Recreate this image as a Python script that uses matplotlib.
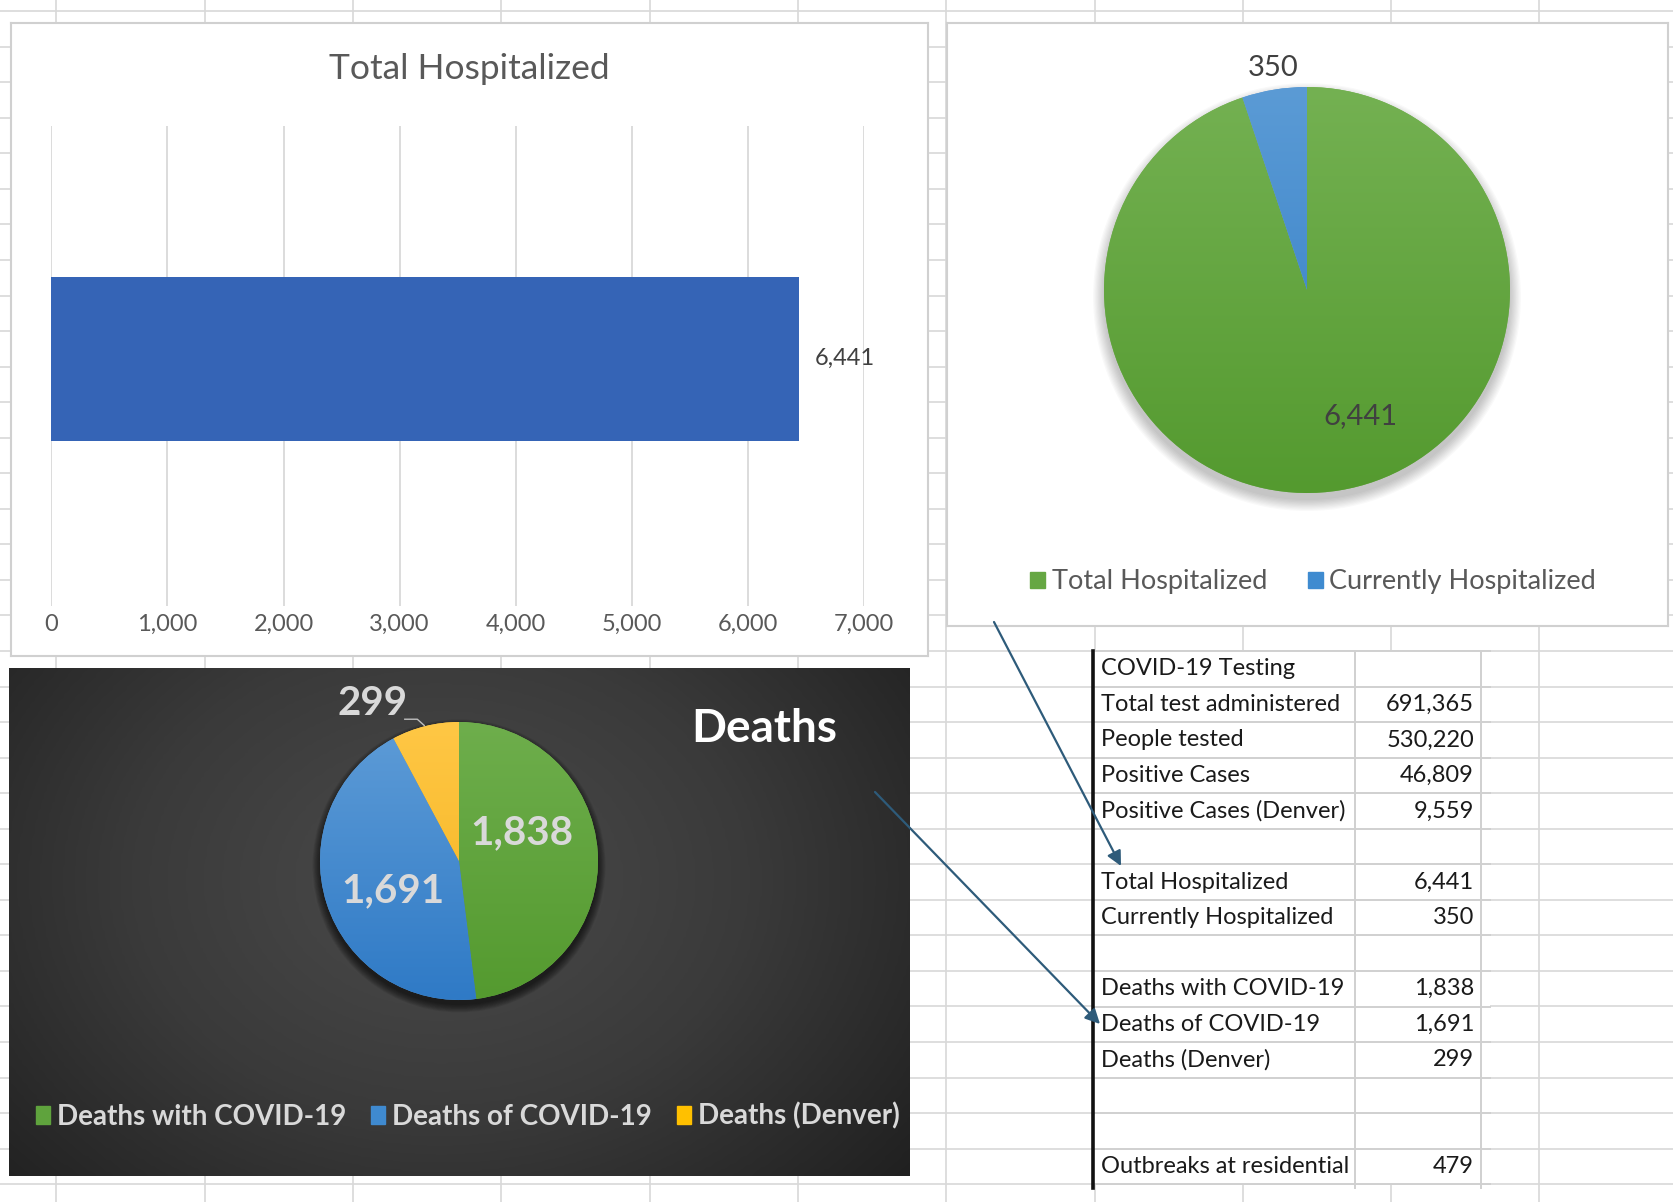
import numpy as np
import matplotlib
matplotlib.use('Agg')
import matplotlib.pyplot as plt
from matplotlib.colors import LinearSegmentedColormap
from matplotlib.patches import Rectangle, Circle, Patch, FancyArrowPatch

plt.rcParams['font.family'] = ['Lato', 'DejaVu Sans']

# ---------------- data ----------------
bar_categories = ['Total Hospitalized']
bar_values = [6441]
bar_ticks = [0, 1000, 2000, 3000, 4000, 5000, 6000, 7000]

hosp_labels = ['Total Hospitalized', 'Currently Hospitalized']
hosp_values = [6441, 350]

death_labels = ['Deaths with COVID-19', 'Deaths of COVID-19', 'Deaths (Denver)']
death_values = [1838, 1691, 299]

table_labels = ['COVID-19 Testing', 'Total test administered', 'People tested',
                'Positive Cases', 'Positive Cases (Denver)', '',
                'Total Hospitalized', 'Currently Hospitalized', '',
                'Deaths with COVID-19', 'Deaths of COVID-19', 'Deaths (Denver)',
                '', '', 'Outbreaks at residential']
table_values = [None, 691365, 530220, 46809, 9559, None, 6441, 350, None,
                1838, 1691, 299, None, None, 479]

# ---------------- layout helpers ----------------
W, H = 1673, 1202
fig = plt.figure(figsize=(W / 100, H / 100), dpi=100)


def px_axes(x0, y0, x1, y1, **kw):
    return fig.add_axes([x0 / W, 1 - y1 / H, (x1 - x0) / W, (y1 - y0) / H], **kw)


# ---------------- spreadsheet background ----------------
bg = px_axes(0, 0, W, H, zorder=0)
bg.set_xlim(0, W)
bg.set_ylim(H, 0)
bg.axis('off')
grid_c = '#d8d8d8'
row_h = 35.55
for x in np.arange(56.5, W, 148.3):
    bg.plot([x, x], [0, H], color=grid_c, lw=1.2, zorder=1)
for y in np.arange(651 - 18 * row_h, H, row_h):
    bg.plot([0, W], [y, y], color=grid_c, lw=1.2, zorder=1)

# table
tx0, tx1, tmid, tval = 1093, 1490, 1355, 1481
ty0 = 651
nrows = len(table_labels)
ty1 = ty0 + nrows * row_h
bg.add_patch(Rectangle((tx0, ty0), tx1 - tx0, ty1 - ty0, facecolor='white',
                       edgecolor='none', zorder=2))
for i in range(nrows + 1):
    y = ty0 + i * row_h
    bg.plot([tx0, tx1], [y, y], color='#d0d0d0', lw=1.4, zorder=3)
for x in (tmid, tval):
    bg.plot([x, x], [ty0, ty1 + 4], color='#d0d0d0', lw=1.4, zorder=3)
bg.plot([tx0, tx0], [ty0, ty1 + 4], color='#111111', lw=2.6, zorder=4)
for i, (lab, val) in enumerate(zip(table_labels, table_values)):
    yc = ty0 + (i + 0.5) * row_h
    if lab:
        bg.text(1101, yc, lab, fontsize=17, color='#1a1a1a', ha='left',
                va='center', zorder=5)
    if val is not None:
        bg.text(1474, yc, f'{val:,}', fontsize=17, color='#1a1a1a', ha='right',
                va='center', zorder=5)

# ---------------- top-left: bar chart ----------------
f1 = px_axes(11, 23, 928, 656, zorder=1)
f1.set_facecolor('white')
f1.set_xticks([]); f1.set_yticks([])
for s in f1.spines.values():
    s.set_color('#d0d0d0'); s.set_linewidth(1.5)
f1.text(0.5, 1 - (69 - 23) / (656 - 23), 'Total Hospitalized', transform=f1.transAxes,
        ha='center', va='center', fontsize=25.5, color='#595959')

ax1 = px_axes(51.2, 126, 864.3, 606, zorder=2)
ax1.set_facecolor('none')
bars = ax1.barh(range(len(bar_categories)), bar_values, height=0.342,
                color='#3564B6', zorder=3)
ax1.set_xlim(bar_ticks[0], bar_ticks[-1])
ax1.set_ylim(-0.515, 0.485)
ax1.set_xticks(bar_ticks)
ax1.set_xticklabels([f'{t:,}' for t in bar_ticks], fontsize=17, color='#595959')
ax1.set_yticks([])
ax1.tick_params(axis='x', length=0, pad=6)
ax1.grid(axis='x', color='#d9d9d9', lw=1.3, zorder=0)
for s in ax1.spines.values():
    s.set_visible(False)
ax1.bar_label(bars, labels=[f'{v:,}' for v in bar_values], padding=11,
              fontsize=17, color='#404040')


# ---------------- pie helper ----------------
def gradient_pie(ax, values, tops, bottoms, shadow_color, shadow_alpha):
    for i in range(10):
        ax.add_patch(Circle((0.0, -0.035), 1.0 + 0.006 * i, facecolor=shadow_color,
                            edgecolor='none', alpha=shadow_alpha, zorder=0.5))
    wedges, _ = ax.pie(values, startangle=90, counterclock=False, colors=tops,
                       radius=1, wedgeprops=dict(linewidth=0))
    for w, t, b in zip(wedges, tops, bottoms):
        cm = LinearSegmentedColormap.from_list('g', [t, b])
        im = ax.imshow(np.linspace(0, 1, 256).reshape(-1, 1), cmap=cm,
                       extent=(-1, 1, -1, 1), origin='upper', aspect='auto',
                       zorder=w.get_zorder() + 0.1, interpolation='bilinear')
        im.set_clip_path(w)
    return wedges


# ---------------- top-right: hospitalized pie ----------------
f2 = px_axes(947, 23, 1668, 626, zorder=1)
f2.set_facecolor('white')
f2.set_xticks([]); f2.set_yticks([])
for s in f2.spines.values():
    s.set_color('#d0d0d0'); s.set_linewidth(1.5)

R2, half2 = 203, 240
cx2, cy2 = 1307, 290
ax2 = px_axes(cx2 - half2, cy2 - half2, cx2 + half2, cy2 + half2, zorder=2)
hosp_tops = ['#74B152', '#5B9BD5']
hosp_bottoms = ['#549A2F', '#2F7BC6']
gradient_pie(ax2, hosp_values, hosp_tops, hosp_bottoms, '#000000', 0.022)
lim2 = half2 / R2
ax2.set_xlim(-lim2, lim2); ax2.set_ylim(-lim2, lim2)
ax2.set_aspect('equal'); ax2.axis('off')
hosp_label_pos = [(0.261, -0.62), (-0.167, 1.094)]
for v, (x, y) in zip(hosp_values, hosp_label_pos):
    ax2.text(x, y, f'{v:,}', fontsize=21, color='#404040', ha='center',
             va='center', zorder=5, clip_on=False)
ax2.legend(handles=[Patch(color=c) for c in ['#66A743', '#3F8BD0']],
           labels=hosp_labels, loc='center', bbox_to_anchor=(1313 / W, 1 - 582 / H),
           bbox_transform=fig.transFigure, ncol=2, frameon=False, fontsize=19.5,
           labelcolor='#595959', handlelength=0.55, handleheight=0.55,
           handletextpad=0.25, columnspacing=1.5)

# ---------------- bottom-left: deaths pie on dark background ----------------
fx0, fy0, fx1, fy1 = 8.5, 668, 909, 1176
f3 = px_axes(fx0, fy0, fx1, fy1, zorder=1)
gx = np.linspace(fx0, fx1, 300)
gy = np.linspace(fy0, fy1, 200)
GX, GY = np.meshgrid(gx, gy)
d = np.sqrt(((GX - 440) / 620) ** 2 + ((GY - 880) / 480) ** 2)
d = np.clip(d, 0, 1)
bg_cm = LinearSegmentedColormap.from_list('bgd', ['#4b4b4b', '#3a3a3a', '#1f1f1f'])
f3.imshow(d, cmap=bg_cm, extent=(0, 1, 0, 1), origin='upper', aspect='auto',
          vmin=0, vmax=1, interpolation='bilinear')
f3.set_xlim(0, 1); f3.set_ylim(0, 1)
f3.set_xticks([]); f3.set_yticks([])
for s in f3.spines.values():
    s.set_visible(False)
f3.text((764 - fx0) / (fx1 - fx0), 1 - (729 - fy0) / (fy1 - fy0),
        'Deaths', transform=f3.transAxes, ha='center', va='center',
        fontsize=33, fontweight='bold', color='white')

R3, half3 = 139, 190
cx3, cy3 = 459, 861
ax3 = px_axes(cx3 - half3, cy3 - half3, cx3 + half3, cy3 + half3, zorder=2)
death_tops = ['#6EAE4C', '#5E9CD7', '#FFC745']
death_bottoms = ['#549A2F', '#2F7AC6', '#F3B21C']
gradient_pie(ax3, death_values, death_tops, death_bottoms, '#000000', 0.07)
lim3 = half3 / R3
ax3.set_xlim(-lim3, lim3); ax3.set_ylim(-lim3, lim3)
ax3.set_aspect('equal'); ax3.axis('off')
death_label_pos = [(0.453, 0.201), (-0.475, -0.216), (-0.62, 1.13)]
for v, (x, y) in zip(death_values, death_label_pos):
    ax3.text(x, y, f'{v:,}', fontsize=29, fontweight='bold', color='#d9d9d9',
             ha='center', va='center', zorder=5, clip_on=False)
ax3.plot([-0.39, -0.30, -0.25], [1.02, 1.02, 0.975], color='#bfbfbf', lw=1,
         zorder=5, clip_on=False)
ax3.legend(handles=[Patch(color=c) for c in ['#5FA33D', '#3F8AD0', '#FFC000']],
           labels=death_labels, loc='center', bbox_to_anchor=(468 / W, 1 - 1116 / H),
           bbox_transform=fig.transFigure, ncol=3, frameon=False,
           labelcolor='#d9d9d9', prop=dict(weight='bold', size=20),
           handlelength=0.5, handleheight=0.6, handletextpad=0.25,
           columnspacing=0.9)

# ---------------- arrows overlay ----------------
ov = px_axes(0, 0, W, H, zorder=10)
ov.set_xlim(0, W); ov.set_ylim(H, 0)
ov.axis('off')
ov.patch.set_alpha(0)
arrow_c = '#2E5B7A'
for (xa, ya), (xb, yb) in [((994, 622), (1121, 866)), ((875, 792), (1100, 1024))]:
    ov.add_patch(FancyArrowPatch((xa, ya), (xb, yb), arrowstyle='-|>',
                                 mutation_scale=22, color=arrow_c, lw=1.6,
                                 shrinkA=0, shrinkB=0))

fig.savefig('out.png', dpi=100)
